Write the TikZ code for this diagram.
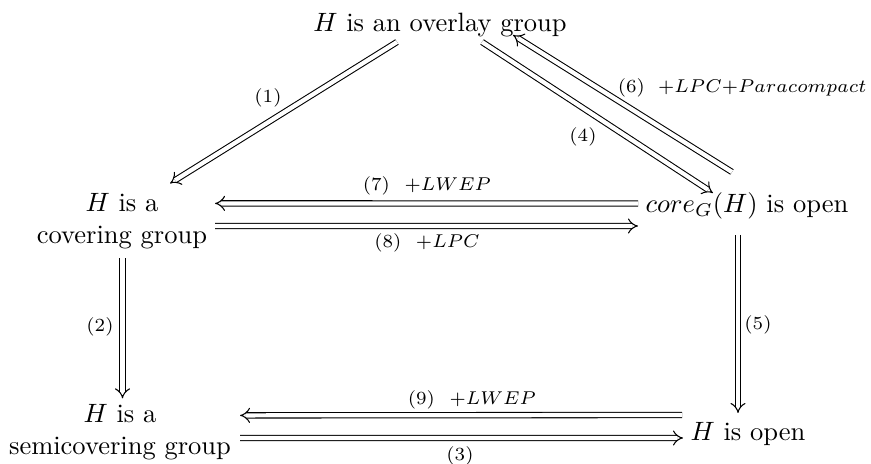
\documentclass[tikz,border=0pt]{standalone}
\usetikzlibrary{arrows.meta,calc}
\begin{document}
\begin{tikzpicture}[x=0.37736pt,y=-0.37736pt,
  imp/.style={double, double distance=1.6pt, line width=0.4pt, -{Implies}},
  obj/.style={inner sep=0pt, align=center},
  lab/.style={inner sep=0pt}]
\useasboundingbox (0,0) rectangle (871,464);
% objects
\node[obj,anchor=base] (T) at (440,32) {$H$ is an overlay group};
\node[obj] (L1) at (122,221.4) {$H$ is a\\covering group};
\node[obj,anchor=base] (R1) at (747,213) {$core_G(H)$ is open};
\node[obj] (L2) at (120,432.4) {$H$ is a\\semicovering group};
\node[obj,anchor=base] (R2) at (748,441) {$H$ is open};
% arrows
\draw[imp] ($(T.base)+(-43,10)$) -- ($(L1.center)+(48,-38)$);
\draw[imp] ($(T.base)+(42,10)$) -- ($(R1.base)+(-34,-20)$);
\draw[imp] ($(R1.base)+(-15,-41)$) -- ($(T.base)+(73,3)$);
\draw[imp] ($(R1.base)+(-109,-9.5)$) -- ($(L1.center)+(93,-18)$);
\draw[imp] ($(L1.center)+(93,4.6)$) -- ($(R1.base)+(-109,13)$);
\draw[imp] ($(L1.center)+(0.5,37)$) -- ($(L2.center)+(2.5,-34)$);
\draw[imp] ($(R1.base)+(-9,22)$) -- ($(R2.base)+(-10,-28)$);
\draw[imp] ($(R2.base)+(-66,-26)$) -- ($(L2.center)+(120,-17)$);
\draw[imp] ($(L2.center)+(120,5.6)$) -- ($(R2.base)+(-65,-3)$);
% labels
\node[lab] (l1) at (268,98) {$\scriptstyle (1)$};
\node[lab] (l4) at (583,137) {$\scriptstyle (4)$};
\node[lab,anchor=east] (l6) at (867,88) {$\scriptstyle (6)\hskip5pt +LPC+Paracompact$};
\node[lab] (l7) at (427,186) {$\scriptstyle (7)\hskip5.5pt +LWEP$};
\node[lab] (l8) at (427,243) {$\scriptstyle (8)\hskip5.5pt +LPC$};
\node[lab] (l2) at (100,327) {$\scriptstyle (2)$};
\node[lab] (l5) at (758,325) {$\scriptstyle (5)$};
\node[lab] (l9) at (472,400) {$\scriptstyle (9)\hskip5.5pt +LWEP$};
\node[lab] (l3) at (460,456) {$\scriptstyle (3)$};
\end{tikzpicture}
\end{document}
